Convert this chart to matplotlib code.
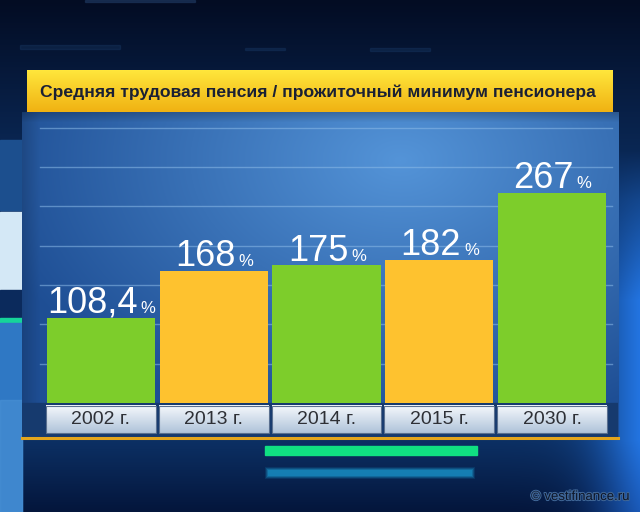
import numpy as np
import matplotlib
matplotlib.use("Agg")
import matplotlib.pyplot as plt
from matplotlib.patches import Rectangle
import matplotlib.patheffects as pe

plt.rcParams['font.family'] = ['Liberation Sans', 'DejaVu Sans']

title = "Средняя трудовая пенсия / прожиточный минимум пенсионера"
years = ["2002 г.", "2013 г.", "2014 г.", "2015 г.", "2030 г."]
values = [108.4, 168, 175, 182, 267]
labels = ["108,4", "168", "175", "182", "267"]
bar_colors = ["#7dcd2b", "#fec22f", "#7dcd2b", "#fec22f", "#7dcd2b"]

W, H = 640, 512
fig = plt.figure(figsize=(6.4, 5.12), dpi=100)

# ---- background (pixel coordinates) ----
bg = fig.add_axes([0, 0, 1, 1])
bg.set_xlim(0, W)
bg.set_ylim(H, 0)
bg.axis('off')

yy, xx = np.mgrid[0:H, 0:W]
t = np.clip(yy / 200.0, 0, 1)
img = np.zeros((H, W, 3))
top = np.array([3, 12, 35]) / 255
mid = np.array([12, 48, 100]) / 255
low = np.array([4, 22, 60]) / 255
for c in range(3):
    img[..., c] = top[c] * (1 - t) + mid[c] * t
t2 = np.clip((yy - 440) / 70.0, 0, 1)
for c in range(3):
    img[..., c] = img[..., c] * (1 - t2) + low[c] * t2
# bright glow on the right side
glow = np.exp(-((xx - 660) / 60.0) ** 2) * np.clip((yy - 150) / 150.0, 0, 1)
img[..., 0] += 0.10 * glow
img[..., 1] += 0.30 * glow
img[..., 2] += 0.55 * glow
img = np.clip(img, 0, 1)
bg.imshow(img, extent=(0, W, H, 0), aspect='auto', zorder=0)

# left side decorations
bg.add_patch(Rectangle((0, 140), 22, 70, color="#1c4f8e", zorder=1))
bg.add_patch(Rectangle((0, 212), 22, 78, color="#d4e8f6", zorder=1))
bg.add_patch(Rectangle((0, 290), 22, 28, color="#0b2a5c", zorder=1))
bg.add_patch(Rectangle((0, 318), 22, 5, color="#16d49a", zorder=1))
bg.add_patch(Rectangle((0, 323), 22, 190, color="#2f78c4", zorder=1))
bg.add_patch(Rectangle((0, 400), 22, 112, color="#4a92d6", alpha=0.6, zorder=1))
# faint streaks on top
for (x0, y0, w, h) in [(20, 45, 100, 4), (245, 48, 40, 2), (225, 75, 95, 6), (370, 48, 60, 3)]:
    bg.add_patch(Rectangle((x0, y0), w, h, color="#2a5a94", alpha=0.18, zorder=1))
bg.add_patch(Rectangle((85, 0), 110, 2, color="#2a4a78", alpha=0.4, zorder=1))

# chart panel gradient
py, px = np.mgrid[112:440, 22:619]
r = np.sqrt(((px - 400) / 420.0) ** 2 + ((py - 160) / 280.0) ** 2)
r = np.clip(r, 0, 1)
inner = np.array([84, 148, 216]) / 255
outer = np.array([30, 78, 148]) / 255
pimg = np.zeros(py.shape + (3,))
for c in range(3):
    pimg[..., c] = inner[c] * (1 - r) + outer[c] * r
# slightly darker left edge
edge = np.clip((px - 22) / 18.0, 0, 1)[..., None]
pimg = pimg * (0.85 + 0.15 * edge)
# shadow under the banner
sh = np.clip((py - 112) / 10.0, 0, 1)[..., None]
pimg = pimg * (0.8 + 0.2 * sh)
bg.imshow(pimg, extent=(22, 619, 440, 112), aspect='auto', zorder=2)

# yellow title banner
band = np.linspace(0, 1, 42)[:, None]
ytop = np.array([255, 230, 60]) / 255
ybot = np.array([240, 178, 18]) / 255
bimg = (ytop * (1 - band) + ybot * band)[:, None, :] * np.ones((1, 10, 1))
bg.imshow(bimg, extent=(27, 613, 112, 70), aspect='auto', zorder=3)
bg.text(40, 92, title, fontsize=12.6, fontweight='bold', color="#1a2034",
        ha='left', va='center', zorder=4)

# decorative bars under panel
bg.add_patch(Rectangle((265, 446), 212, 9, color="#10e082", zorder=3))
for k, a in [(0, 0.15), (1, 0.25), (2, 0.35), (3, 0.45)]:
    bg.add_patch(Rectangle((265 + k, 467 + k), 210 - 2 * k, 12 - 2 * k,
                           color="#1a9ad0", alpha=a, linewidth=0, zorder=3))

wm = bg.text(630, 497, "© vestifinance.ru", fontsize=9.5, color="#0e1628",
             ha='right', va='center', zorder=4)
wm.set_path_effects([pe.withStroke(linewidth=1.5, foreground="#3e6596")])

# ---- data axes ----
ax = fig.add_axes([22 / W, (H - 438) / H, (618 - 22) / W, (438 - 112) / H])
ax.set_facecolor('none')
ax.set_zorder(5)
x = np.arange(len(values))
xlim = (-0.70, 4.585)
ylim = (-44.5, 370)

# dark strip behind year boxes
ax.add_patch(Rectangle((xlim[0], ylim[0]), xlim[1] - xlim[0], -ylim[0],
                       color="#163a6e", zorder=1))
# gridlines
for g in range(50, 400, 50):
    ax.plot([0.03, 0.99], [g, g], transform=ax.get_yaxis_transform(),
            color="#8cbbe8", alpha=0.55, lw=1, zorder=1)

ax.bar(x, values, width=0.958, color=bar_colors, zorder=2)

# year boxes with light gradient
gb = np.linspace(0, 1, 30)[:, None]
gtop = np.array([245, 248, 252]) / 255
gbot = np.array([176, 196, 218]) / 255
gimg = (gtop * (1 - gb) + gbot * gb)[:, None, :] * np.ones((1, 5, 1))
for i, yr in enumerate(years):
    ax.imshow(gimg, extent=(i - 0.487, i + 0.487, -38.5, -4), aspect='auto', zorder=3)
    ax.add_patch(Rectangle((i - 0.487, -38.5), 0.974, 34.5, fill=False,
                           edgecolor="#5a7090", lw=0.8, zorder=4))
    ax.text(i, -21.5, yr, fontsize=14, color="#2e3036", ha='center',
            va='center', zorder=5)

# value labels with small percent sign
for i, (v, lbl) in enumerate(zip(values, labels)):
    num = ax.annotate(lbl, xy=(i, v), xytext=(-6, 3.5), textcoords='offset points',
                      ha='center', va='baseline', fontsize=26, color='white', zorder=6)
    ax.annotate('%', xy=(1, v), xycoords=(num, 'data'), xytext=(2, 3.5),
                textcoords='offset points', ha='left', va='baseline',
                fontsize=12, color='white', zorder=6)

ax.plot(xlim, [ylim[0], ylim[0]], color="#e4a51c", lw=2.2, clip_on=False, zorder=6)

ax.set_xlim(xlim)
ax.set_ylim(ylim)
ax.axis('off')

fig.savefig("out.png", dpi=100)
